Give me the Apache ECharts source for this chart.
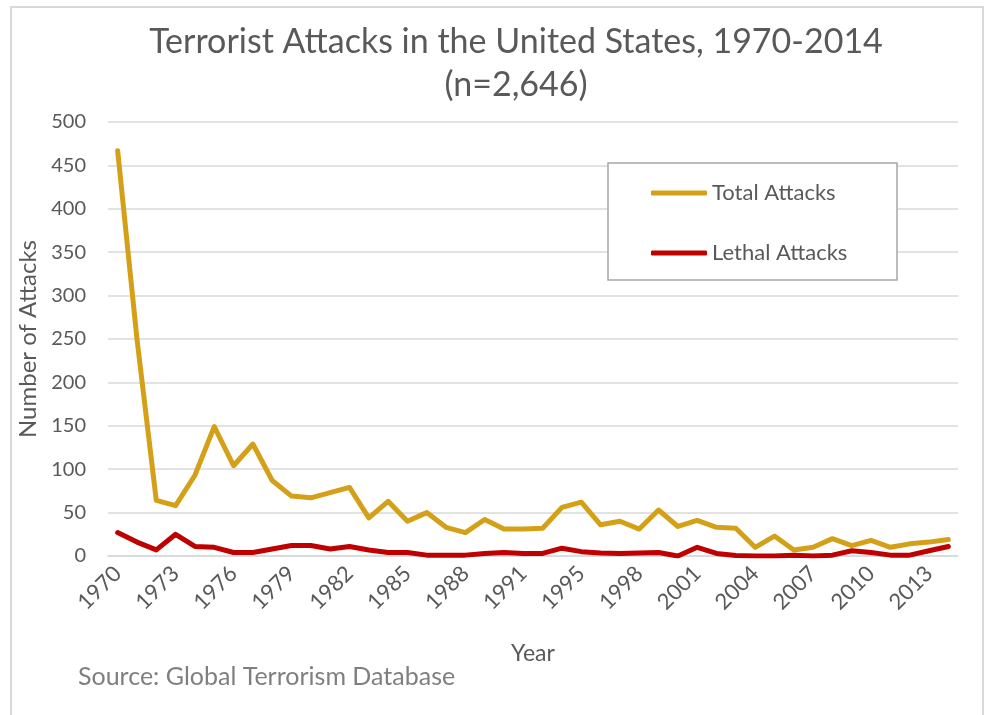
<!DOCTYPE html>
<html>
<head>
<meta charset="utf-8">
<script src="https://cdn.jsdelivr.net/npm/echarts@6/dist/echarts.min.js"></script>
<style>
html,body{margin:0;padding:0;background:#fff;}
#chart{width:988px;height:715px;}
</style>
</head>
<body>
<div id="chart"></div>
<script>
const years = ['1970','1971','1972','1973','1974','1975','1976','1977','1978','1979',
  '1980','1981','1982','1983','1984','1985','1986','1987','1988','1989',
  '1990','1991','1992','1994','1995','1996','1997','1998','1999',
  '2000','2001','2002','2003','2004','2005','2006','2007','2008','2009',
  '2010','2011','2012','2013','2014'];
const totalAttacks = [467,250,64,58,93,149,104,129,87,69,
  67,73,79,44,63,40,50,33,27,42,
  31,31,32,56,62,36,40,31,53,
  34,41,33,32,10,23,7,10,20,12,
  18,10,14,16,19];
const lethalAttacks = [27,16,7,25,11,10,4,4,8,12,
  12,8,11,7,4,4,1,1,1,3,
  4,3,3,9,5,3.5,3,3.5,4,
  0,10,3,0.5,0,0,1,0,1,6,
  4,1,1,6,11];
const yTicks = {min:0, max:500, interval:50};
const titleText = 'Terrorist Attacks in the United States, 1970-2014\n(n=2,646)';
const sourceText = 'Source: Global Terrorism Database';

const FONT = 'Lato';
const chart = echarts.init(document.getElementById('chart'), null, {renderer:'canvas'});
chart.setOption({
  backgroundColor:'#ffffff',
  animation:false,
  textStyle:{fontFamily:FONT},
  title:{
    text:titleText,
    left:511, top:16, textAlign:'center',
    textStyle:{fontFamily:FONT, fontSize:34, fontWeight:'normal', color:'#595959', lineHeight:43}
  },
  grid:{left:108, right:30, top:122, bottom:159, containLabel:false},
  legend:{
    orient:'vertical',
    left:646, top:177,
    itemWidth:56, itemHeight:5,
    itemGap:38,
    icon:'roundRect',
    z:10,
    textStyle:{fontFamily:FONT, fontSize:22, color:'#595959'},
    data:['Total Attacks','Lethal Attacks']
  },
  graphic:[
    {type:'rect', z:-10, shape:{x:11, y:7, width:972, height:720},
      style:{fill:'#ffffff', stroke:'#d9d9d9', lineWidth:2}},
    {type:'rect', z:5, shape:{x:608, y:163, width:289, height:117},
      style:{fill:'#ffffff', stroke:'#a6a6a6', lineWidth:1.5}},
    {type:'text', z:5, left:78, top:664,
      style:{text:sourceText, fontFamily:FONT, fontSize:25, fill:'#7f7f7f'}}
  ],
  xAxis:{
    type:'category',
    data:years,
    boundaryGap:true,
    name:'Year',
    nameLocation:'middle',
    nameGap:86,
    nameTextStyle:{fontFamily:FONT, fontSize:23, color:'#595959'},
    axisLine:{show:true, lineStyle:{color:'#d9d9d9', width:1.5}},
    axisTick:{show:false},
    axisLabel:{interval:2, rotate:45, margin:14, fontFamily:FONT, fontSize:22, color:'#595959'},
    splitLine:{show:false}
  },
  yAxis:{
    type:'value',
    min:yTicks.min, max:yTicks.max, interval:yTicks.interval,
    name:'Number of Attacks',
    nameLocation:'middle',
    nameGap:64,
    nameTextStyle:{fontFamily:FONT, fontSize:24, color:'#595959'},
    axisLine:{show:false},
    axisTick:{show:false},
    axisLabel:{margin:22, fontFamily:FONT, fontSize:20, color:'#595959'},
    splitLine:{show:true, lineStyle:{color:'#d9d9d9', width:1.5}}
  },
  series:[
    {name:'Total Attacks', type:'line', data:totalAttacks, showSymbol:false, symbol:'none',
      lineStyle:{color:'#D4A017', width:5, join:'round', cap:'round'}, itemStyle:{color:'#D4A017'}, z:3},
    {name:'Lethal Attacks', type:'line', data:lethalAttacks, showSymbol:false, symbol:'none',
      lineStyle:{color:'#C00000', width:5, join:'round', cap:'round'}, itemStyle:{color:'#C00000'}, z:4}
  ]
});
</script>
</body>
</html>
